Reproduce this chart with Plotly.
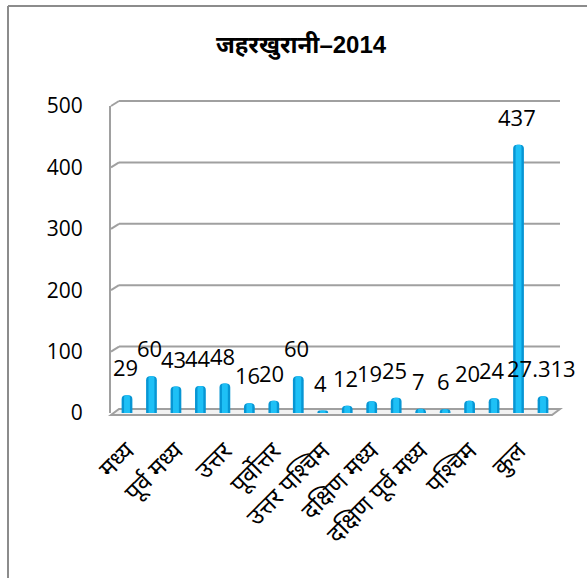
import plotly.graph_objects as go

# Poisoning (जहरखुरानी) cases by railway zone, 2014, with total and average
categories = [
    "मध्य", "पूर्व", "पूर्व मध्य", "पूर्व तट", "उत्तर", "उत्तर मध्य",
    "पूर्वोत्तर", "पूर्वोत्तर सीमा", "उत्तर पश्चिम", "दक्षिण", "दक्षिण मध्य",
    "दक्षिण पूर्व", "दक्षिण पूर्व मध्य", "दक्षिण पश्चिम", "पश्चिम",
    "पश्चिम मध्य", "कुल", "औसत",
]
values = [29, 60, 43, 44, 48, 16, 20, 60, 4, 12, 19, 25, 7, 6, 20, 24, 437, 27.313]
value_labels = ["29", "60", "43", "44", "48", "16", "20", "60", "4", "12",
                "19", "25", "7", "6", "20", "24", "437", "27.313"]
shown_ticks = categories[::2]
y_ticks = [0, 100, 200, 300, 400, 500]
y_max = 500
title_text = "जहरखुरानी–2014"

# plot-area geometry (pixels)
W, H = 587, 578
L, R, T, B = 111, 35, 106, 165
PW = W - L - R
PH = H - T - B
DX, DY = 8, 5          # depth offset of the back wall
GRID = "#a0a0a0"

fig = go.Figure()

# cylinder body plus a lighter centre highlight
fig.add_trace(go.Bar(
    x=categories, y=values, width=0.44,
    marker=dict(color="#0796d4", line=dict(width=0)),
    hoverinfo="skip", showlegend=False,
))
fig.add_trace(go.Bar(
    x=categories, y=values, width=0.24,
    marker=dict(color="#1ec0f6", line=dict(width=0)),
    hoverinfo="skip", showlegend=False,
))

# value labels above each column
for c, v, t in zip(categories, values, value_labels):
    fig.add_annotation(
        x=c, y=v, text=t, showarrow=False, yanchor="bottom",
        xshift=-2, yshift=11,
        font=dict(family="Open Sans", size=22, color="#000000"),
    )

shapes = []
# floor
shapes.append(dict(
    type="path", xref="paper", yref="paper",
    xsizemode="pixel", xanchor=0, ysizemode="pixel", yanchor=0,
    path=f"M 0,-2 L {PW},-2 L {PW + DX},{DY - 1} L {DX},{DY - 1} Z",
    fillcolor="#f2f2f2", line=dict(color=GRID, width=2), layer="below",
))
# back-wall gridlines with their small 3D connector at the axis
for v in y_ticks[1:]:
    shapes.append(dict(
        type="line", xref="paper", yref="paper",
        xsizemode="pixel", xanchor=0, x0=0, x1=DX,
        ysizemode="pixel", yanchor=v / y_max, y0=0, y1=DY,
        line=dict(color=GRID, width=2), layer="below",
    ))
    shapes.append(dict(
        type="line", xref="paper", yref="paper",
        xsizemode="pixel", xanchor=0, x0=DX, x1=PW + DX,
        ysizemode="pixel", yanchor=v / y_max, y0=DY, y1=DY,
        line=dict(color=GRID, width=2), layer="below",
    ))
# outer chart border (top and left edges)
fx = (8 - L) / PW
fy = (H - B - 6) / PH
shapes.append(dict(type="line", xref="paper", yref="paper",
                   x0=fx, x1=(W + 20 - L) / PW, y0=fy, y1=fy,
                   line=dict(color="#8c8c8c", width=2)))
shapes.append(dict(type="line", xref="paper", yref="paper",
                   x0=fx, x1=fx, y0=fy, y1=-(B + 20) / PH,
                   line=dict(color="#8c8c8c", width=2)))

fig.update_layout(
    width=W, height=H,
    margin=dict(l=L, r=R, t=T, b=B),
    paper_bgcolor="white", plot_bgcolor="white",
    barmode="overlay", barcornerradius=4,
    shapes=shapes,
    title=dict(
        text=f"<b>{title_text}</b>", xref="container", yref="container",
        x=301 / W, y=1 - 45 / H, xanchor="center", yanchor="middle",
        font=dict(family="Liberation Sans, Noto Sans", size=24, color="#000000"),
    ),
    xaxis=dict(
        type="category", range=[-16 / 24.47, 17 + 9 / 24.47],
        tickmode="array", tickvals=shown_ticks, ticktext=shown_ticks,
        tickangle=-45, ticks="", showline=False, showgrid=False,
        ticklabelstandoff=18,
        tickfont=dict(family="Noto Sans", size=24, color="#000000"),
    ),
    yaxis=dict(
        range=[0, y_max], tickvals=y_ticks, ticks="", showgrid=False,
        zeroline=False, showline=True, linecolor=GRID, linewidth=2,
        ticklabelstandoff=22,
        tickfont=dict(family="Open Sans", size=21, color="#000000"),
    ),
)

fig.write_html("out.html")
